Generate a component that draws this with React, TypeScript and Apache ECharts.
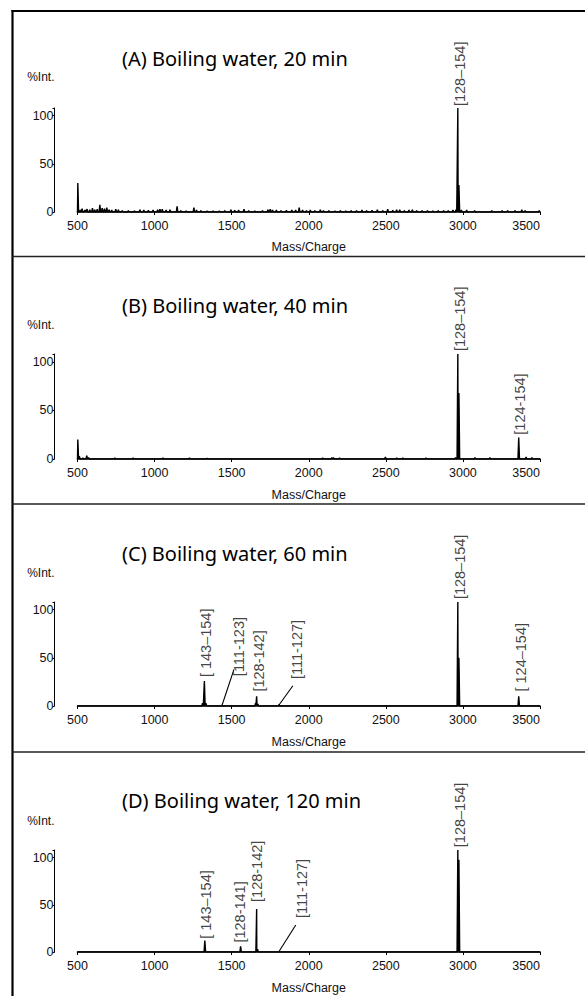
import React, { useEffect, useRef } from "react";
import * as echarts from "echarts";

// ---------- data ----------
const panelTitles = [
  "(A) Boiling water, 20 min",
  "(B) Boiling water, 40 min",
  "(C) Boiling water, 60 min",
  "(D) Boiling water, 120 min",
];

const xMin = 500;
const xMax = 3500;
const xStep = 500;
const yTickValues = [0, 50, 100];
const yMax = 108;
const xAxisTitle = "Mass/Charge";
const yAxisTitle = "%Int.";

// peaks: [m/z, %Int]
const peaksA: [number, number][] = [
  [502, 30], [518, 2], [530, 3.5], [548, 2], [562, 3], [580, 2.5], [597, 4], [612, 2.5],
  [628, 3], [645, 7.5], [660, 4], [675, 3.5], [690, 4.5], [705, 2.5], [722, 2], [748, 3],
  [765, 2.5], [790, 1.5], [830, 1.5], [870, 1.2], [905, 2.5], [930, 2], [960, 1.8], [990, 2.2],
  [1020, 2.5], [1035, 3], [1050, 2.8], [1075, 2], [1100, 2.5], [1146, 6], [1170, 1.5], [1205, 1.2],
  [1255, 4.5], [1272, 2], [1300, 1.5], [1340, 1.3], [1380, 1.2], [1420, 1.3], [1455, 1.5], [1495, 2.5],
  [1520, 1.8], [1545, 2], [1580, 3], [1610, 1.5], [1650, 1.3], [1700, 1.4], [1735, 2.5], [1750, 3],
  [1765, 2.2], [1790, 2], [1820, 1.5], [1855, 1.8], [1890, 2], [1915, 2.2], [1938, 4.5], [1960, 2],
  [1985, 1.5], [2010, 2], [2040, 1.5], [2075, 2.5], [2095, 1.5], [2130, 1.5], [2170, 1.3], [2205, 1.5],
  [2240, 1.2], [2275, 1.5], [2310, 1.5], [2345, 2], [2375, 1.5], [2410, 1.8], [2445, 2.5], [2480, 1.5],
  [2512, 3], [2545, 1.8], [2570, 2.5], [2590, 2.5], [2620, 1.5], [2650, 2], [2672, 2.5], [2700, 1.5],
  [2735, 1.5], [2770, 1.5], [2805, 1.3], [2840, 1.5], [2875, 1.5], [2905, 1.5], [2935, 2], [2955, 2.5],
  [2967, 108], [2974, 28], [2990, 2], [3024, 2], [3076, 1.5], [3187, 1.5], [3254, 1.5], [3290, 1.5],
  [3338, 1.5], [3382, 2.5], [3403, 1.5], [3495, 1.5],
];
const peaksB: [number, number][] = [
  [502, 20], [512, 3], [535, 1], [560, 3.5], [572, 1.5], [742, 1], [861, 1], [1054, 1],
  [1226, 1.2], [1340, 0.8], [2090, 1], [2150, 1.5], [2162, 1.2], [2200, 1], [2497, 2], [2570, 1.2],
  [2610, 1.2], [2760, 1], [2952, 1.5], [2967, 108], [2974, 68], [3078, 1.5], [3175, 1.5], [3362, 22],
  [3410, 2], [3447, 1.5],
];
const peaksC: [number, number][] = [
  [1311, 3], [1323, 26], [1333, 3], [1655, 3], [1662, 10], [1670, 2], [1807, 1.5],
  [2967, 108], [2974, 50], [3362, 10],
];
const peaksD: [number, number][] = [
  [1326, 12], [1558, 6], [1662, 45.5], [1668, 3], [2967, 108], [2974, 97.6],
];

// annotations: [text, m/z, %Int at the foot of the label]
const labelsA: [string, number, number][] = [["[128–154]", 2978, 110]];
const labelsB: [string, number, number][] = [
  ["[128–154]", 2978, 111],
  ["[124-154]", 3372, 25],
];
const labelsC: [string, number, number][] = [
  ["[128–154]", 2978, 111],
  ["[ 143–154]", 1333, 30],
  ["[111-123]", 1546, 31],
  ["[128-142]", 1679, 15],
  ["[111-127]", 1926, 28],
  ["[ 124–154]", 3374, 15],
];
const labelsD: [string, number, number][] = [
  ["[128–154]", 2978, 111],
  ["[ 143–154]", 1335, 14],
  ["[128-141]", 1551, 10],
  ["[128-142]", 1667, 53],
  ["[111-127]", 1953, 36],
];

// leader lines: [from m/z, from %Int, to m/z, to %Int]
const leadersA: [number, number, number, number][] = [];
const leadersB: [number, number, number, number][] = [];
const leadersC: [number, number, number, number][] = [
  [1437, 0.5, 1515, 38],
  [1807, 1, 1897, 21],
];
const leadersD: [number, number, number, number][] = [[1807, 0.5, 1916, 28.6]];

const panelPeaks = [peaksA, peaksB, peaksC, peaksD];
const panelLabels = [labelsA, labelsB, labelsC, labelsD];
const panelLeaders = [leadersA, leadersB, leadersC, leadersD];

// ---------- layout (pixels) ----------
const W = 585;
const H = 996;
const gridTops = [108, 354, 602, 850];
const gridHeights = [104, 105, 104, 102];
const titleYs = [58, 305, 553, 800];
const separatorYs = [256.5, 504, 752];
const gridLeft = 77.5;
const gridRight = 45;
const yAxisOffset = 23;
const peakHalfWidth = 5; // drawing width of a spike foot, in m/z units

const TICK_FONT = '"Liberation Sans", Arial, sans-serif';
const TITLE_FONT = '"Noto Sans", "Open Sans", sans-serif';

function spectrum(peaks: [number, number][]) {
  const hw = peakHalfWidth;
  const pts: [number, number][] = [[xMin, 0], [xMax, 0]];
  peaks.forEach(([m, h]) => {
    pts.push([Math.max(xMin, m - hw), 0]);
    pts.push([m, h]);
    pts.push([Math.min(xMax, m + hw), 0]);
  });
  pts.sort((a, b) => a[0] - b[0] || a[1] - b[1]);
  return pts;
}

export default function App() {
  const ref = useRef<HTMLDivElement>(null);

  useEffect(() => {
    if (!ref.current) return;
    const chart = echarts.init(ref.current, undefined, { renderer: "svg" });

    const grids: any[] = [];
    const xAxes: any[] = [];
    const yAxes: any[] = [];
    const series: any[] = [];
    const graphics: any[] = [];

    for (let i = 0; i < 4; i++) {
      grids.push({
        left: gridLeft,
        right: gridRight,
        top: gridTops[i],
        height: gridHeights[i],
        containLabel: false,
      });
      xAxes.push({
        gridIndex: i,
        type: "value",
        min: xMin,
        max: xMax,
        interval: xStep,
        name: xAxisTitle,
        nameLocation: "middle",
        nameGap: i === 0 ? 28 : 29,
        nameTextStyle: { fontSize: 12.5, fontFamily: TICK_FONT, color: "#111" },
        axisLine: { show: true, onZero: false, lineStyle: { color: "#000", width: 1.6 } },
        axisTick: { show: true, length: 3, lineStyle: { color: "#000" } },
        axisLabel: {
          fontSize: 12.5,
          fontFamily: TICK_FONT,
          color: "#111",
          margin: 7,
          alignMaxLabel: "right",
          formatter: (v: number) => String(v),
        },
        splitLine: { show: false },
      });
      yAxes.push({
        gridIndex: i,
        type: "value",
        min: 0,
        max: yMax,
        interval: 50,
        offset: yAxisOffset,
        name: yAxisTitle,
        nameLocation: "end",
        nameGap: i === 0 ? 31 : 29,
        nameTextStyle: {
          fontSize: 12,
          fontFamily: TICK_FONT,
          color: "#111",
          align: "right",
          verticalAlign: "middle",
        },
        axisLine: { show: true, lineStyle: { color: "#000", width: 1 } },
        axisTick: { show: true, length: 2, lineStyle: { color: "#000" } },
        axisLabel: {
          fontSize: 12.5,
          fontFamily: TICK_FONT,
          color: "#111",
          margin: 1,
          formatter: (v: number) => (yTickValues.includes(v) ? String(v) : ""),
        },
        splitLine: { show: false },
      });

      series.push({
        type: "line",
        xAxisIndex: i,
        yAxisIndex: i,
        data: spectrum(panelPeaks[i]),
        showSymbol: false,
        symbol: "none",
        silent: true,
        lineStyle: { color: "#000", width: 1.4 },
        areaStyle: { color: "#000", opacity: 1 },
        z: 3,
      });

      if (panelLeaders[i].length) {
        series.push({
          type: "lines",
          coordinateSystem: "cartesian2d",
          xAxisIndex: i,
          yAxisIndex: i,
          silent: true,
          lineStyle: { color: "#000", width: 1.1, opacity: 1 },
          data: panelLeaders[i].map(([x0, y0, x1, y1]) => ({
            coords: [
              [x0, y0],
              [x1, y1],
            ],
          })),
          z: 4,
        });
      }

      series.push({
        type: "scatter",
        xAxisIndex: i,
        yAxisIndex: i,
        clip: false,
        silent: true,
        symbolSize: 1,
        itemStyle: { color: "rgba(0,0,0,0)" },
        data: panelLabels[i].map(([t, m, v]) => ({ name: t, value: [m, v] })),
        label: {
          show: true,
          position: "inside",
          rotate: 90,
          align: "left",
          verticalAlign: "middle",
          formatter: "{b}",
          fontSize: 14.5,
          fontFamily: TICK_FONT,
          color: "#111",
        },
        z: 5,
      });

      graphics.push({
        type: "text",
        x: 122,
        y: titleYs[i],
        style: {
          text: panelTitles[i],
          fontSize: 20,
          fontFamily: TITLE_FONT,
          fill: "#000",
          verticalAlign: "middle",
        },
        z: 10,
      });
    }

    // frame
    graphics.push({
      type: "line",
      shape: { x1: 11.5, y1: 11, x2: W, y2: 11 },
      style: { stroke: "#000", lineWidth: 2.2 },
      z: 10,
    });
    graphics.push({
      type: "line",
      shape: { x1: 12.5, y1: 10, x2: 12.5, y2: H },
      style: { stroke: "#000", lineWidth: 2.2 },
      z: 10,
    });
    separatorYs.forEach((y) =>
      graphics.push({
        type: "line",
        shape: { x1: 12, y1: y, x2: W, y2: y },
        style: { stroke: "#222", lineWidth: 1.5 },
        z: 10,
      })
    );

    chart.setOption({
      animation: false,
      backgroundColor: "#fff",
      grid: grids,
      xAxis: xAxes,
      yAxis: yAxes,
      series,
      graphic: graphics,
    });

    return () => chart.dispose();
  }, []);

  return (
    <div
      ref={ref}
      style={{ position: "fixed", left: 0, top: 0, width: W, height: H, background: "#fff" }}
    />
  );
}
